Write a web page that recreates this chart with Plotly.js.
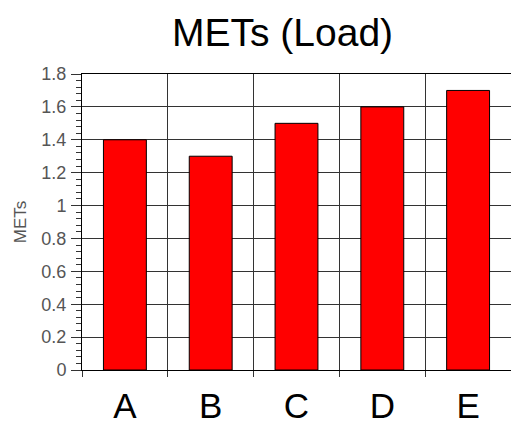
<!DOCTYPE html>
<html>
<head>
<meta charset="utf-8">
<script src="https://cdn.plot.ly/plotly-3.0.1.min.js"></script>
<style>html,body{margin:0;padding:0;background:#fff;}#chart{width:511px;height:427px;}</style>
</head>
<body>
<div id="chart"></div>
<script>
const categories = ["A", "B", "C", "D", "E"];
const metsValues = [1.4, 1.3, 1.5, 1.6, 1.7];
const yTickValues = [0, 0.2, 0.4, 0.6, 0.8, 1, 1.2, 1.4, 1.6, 1.8];
const yTickLabels = ["0", "0.2", "0.4", "0.6", "0.8", "1", "1.2", "1.4", "1.6", "1.8"];

const trace = {
  type: "bar",
  x: categories,
  y: metsValues,
  width: 0.5,
  marker: {color: "#ff0000", line: {color: "#000000", width: 1}},
  hoverinfo: "x+y"
};

const layout = {
  width: 511,
  height: 427,
  margin: {l: 82, r: 0, t: 74, b: 57, pad: 0},
  paper_bgcolor: "#ffffff",
  plot_bgcolor: "#ffffff",
  showlegend: false,
  font: {family: "Liberation Sans, Arial, sans-serif", color: "#333333"},
  title: {
    text: "METs (Load)",
    font: {size: 39, color: "#000000", family: "Liberation Sans, Arial, sans-serif"},
    x: 0.553, xanchor: "center",
    y: 0.925, yanchor: "middle"
  },
  xaxis: {
    type: "category",
    range: [-0.5, 4.5],
    tickson: "boundaries",
    ticks: "outside",
    ticklen: 6,
    tickcolor: "#333333",
    showgrid: true,
    gridcolor: "#333333",
    gridwidth: 1,
    showline: true,
    linecolor: "#000000",
    linewidth: 1,
    mirror: true,
    tickfont: {size: 35, color: "#000000"},
    ticklabelstandoff: 5,
    fixedrange: true
  },
  yaxis: {
    range: [0, 1.8],
    tickvals: yTickValues,
    ticktext: yTickLabels,
    ticks: "outside",
    ticklen: 10,
    tickcolor: "#333333",
    showgrid: true,
    gridcolor: "#333333",
    gridwidth: 1,
    zeroline: false,
    showline: true,
    linecolor: "#000000",
    linewidth: 1,
    mirror: true,
    tickfont: {size: 18, color: "#555555"},
    ticklabelstandoff: 1,
    minor: {dtick: 0.04, ticks: "outside", ticklen: 5, tickcolor: "#333333", showgrid: false},
    title: {text: "METs", font: {size: 17, color: "#555555"}, standoff: 10},
    fixedrange: true
  }
};

Plotly.newPlot("chart", [trace], layout, {displayModeBar: false, staticPlot: true});
</script>
</body>
</html>
